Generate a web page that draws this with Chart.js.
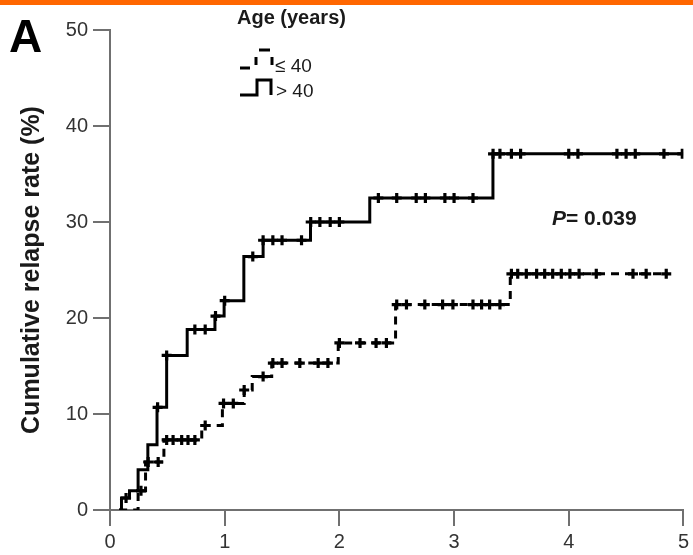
<!DOCTYPE html>
<html>
<head>
<meta charset="utf-8">
<script src="https://cdn.jsdelivr.net/npm/chart.js@4/dist/chart.umd.min.js"></script>
<style>
  html, body { margin: 0; padding: 0; background: #fff; }
  #wrap { position: relative; width: 693px; height: 555px; overflow: hidden;
          font-family: 'Liberation Sans', Arial, sans-serif; }
  #wrap canvas { position: absolute; left: 0; top: 0; }
  #topbar { position: absolute; left: 0; top: 0; width: 693px; height: 5px; background: #ff6600; }
  .lbl { position: absolute; white-space: nowrap; line-height: 1; color: #1a1a1a; }
  #icons { position: absolute; left: 0; top: 0; }
</style>
</head>
<body>
<div id="wrap">
  <canvas id="km" width="693" height="555"></canvas>
  <div id="topbar"></div>
  <div class="lbl" style="left:9px;top:13px;font-size:46px;font-weight:bold;color:#000">A</div>
  <div class="lbl" style="left:237px;top:7px;font-size:20px;font-weight:bold">Age (years)</div>
  <svg id="icons" width="693" height="120">
    <g stroke="#000" stroke-width="3" fill="none">
      <line x1="240" y1="68" x2="250" y2="68"/>
      <line x1="256" y1="57" x2="256" y2="65"/>
      <line x1="259" y1="50" x2="270" y2="50"/>
      <line x1="272" y1="57" x2="272" y2="65"/>
      <polyline points="240,95 257,95 257,80 271,80 271,95"/>
    </g>
  </svg>
  <div class="lbl" style="left:275px;top:56px;font-size:19px">≤ 40</div>
  <div class="lbl" style="left:276px;top:81px;font-size:19px">&gt; 40</div>
  <div class="lbl" style="left:552px;top:207px;font-size:21px;font-weight:bold"><i>P</i>= 0.039</div>
</div>
<script>
// Age > 40: event times (years) and cumulative relapse rate (%) after each step
const gtTimes  = [0.08, 0.10, 0.17, 0.245, 0.33, 0.41, 0.494, 0.673, 0.915, 0.995, 1.167, 1.335, 1.748, 2.265, 3.339, 4.99];
const gtRates  = [0, 1.25, 2.0, 4.2, 6.8, 10.7, 16.1, 18.8, 20.2, 21.8, 26.4, 28.1, 30.0, 32.5, 37.1, 37.1];
const gtCensor = [0.14, 0.415, 0.494, 0.74, 0.83, 0.92, 1.0, 1.245, 1.335, 1.42, 1.50, 1.67, 1.75, 1.83, 1.92, 2.0,
                  2.34, 2.50, 2.67, 2.75, 2.92, 3.0, 3.165, 3.34, 3.40, 3.50, 3.58, 4.0, 4.08, 4.42, 4.50, 4.58, 4.83, 4.99];

// Age <= 40
const leTimes  = [0.08, 0.245, 0.31, 0.47, 0.80, 0.98, 1.17, 1.24, 1.41, 1.99, 2.49, 3.49, 4.86];
const leRates  = [0, 2.0, 5.0, 7.3, 8.8, 11.1, 12.5, 13.9, 15.3, 17.4, 21.4, 24.6, 24.6];
const leCensor = [0.27, 0.333, 0.42, 0.494, 0.55, 0.625, 0.68, 0.74, 0.83, 0.99, 1.075, 1.17, 1.335, 1.42, 1.50,
                  1.655, 1.815, 1.90, 2.0, 2.18, 2.32, 2.41, 2.50, 2.585, 2.745, 2.90, 2.99, 3.165, 3.24, 3.31, 3.40,
                  3.50, 3.555, 3.63, 3.72, 3.79, 3.86, 3.935, 4.01, 4.09, 4.24, 4.56, 4.675, 4.85];

const xTicks = [0, 1, 2, 3, 4, 5];
const yTicks = [0, 10, 20, 30, 40, 50];

// level of a step curve at time t (for placing censor ticks on the curve)
function levelAt(times, rates, t) {
  let v = rates[0];
  times.forEach((tt, i) => { if (tt <= t + 1e-9) v = rates[i]; });
  return v;
}
const stepPts = (times, rates) => times.map((t, i) => ({ x: t, y: rates[i] }));
const censorPts = (cens, times, rates) => cens.map(t => ({ x: t, y: levelAt(times, rates, t) }));

const AXIS = '#707070';
const FONT = "'Liberation Sans', Arial, sans-serif";

const markStyle = {
  type: 'scatter', showLine: false, pointStyle: 'cross',
  pointRadius: 5, pointBorderWidth: 3.2, borderColor: '#000', backgroundColor: '#000',
};

new Chart(document.getElementById('km'), {
  type: 'line',
  data: {
    datasets: [
      { label: '> 40', data: stepPts(gtTimes, gtRates), stepped: 'before',
        borderColor: '#000', borderWidth: 3, pointRadius: 0, fill: false },
      { label: '≤ 40', data: stepPts(leTimes, leRates), stepped: 'before',
        borderColor: '#000', borderWidth: 3, borderDash: [8, 6], pointRadius: 0, fill: false },
      { ...markStyle, label: '> 40 censored', data: censorPts(gtCensor, gtTimes, gtRates) },
      { ...markStyle, label: '≤ 40 censored', data: censorPts(leCensor, leTimes, leRates) },
    ]
  },
  options: {
    responsive: false, animation: false, devicePixelRatio: 1,
    layout: { padding: { top: 30, right: 9, left: 0, bottom: 0 } },
    plugins: { legend: { display: false }, tooltip: { enabled: false } },
    scales: {
      x: {
        type: 'linear', min: 0, max: 5,
        afterFit: s => { s.height = 45; },
        afterBuildTicks: s => { s.ticks = xTicks.map(v => ({ value: v })); },
        border: { color: AXIS, width: 2 },
        grid: { drawOnChartArea: false, drawTicks: true, tickLength: 16, color: AXIS, lineWidth: 2 },
        ticks: { color: '#333', padding: 4, font: { family: FONT, size: 20 } },
      },
      y: {
        type: 'linear', min: 0, max: 50,
        afterFit: s => { s.width = 110; },
        afterBuildTicks: s => { s.ticks = yTicks.map(v => ({ value: v })); },
        border: { color: AXIS, width: 2 },
        grid: { drawOnChartArea: false, drawTicks: true, tickLength: 17, color: AXIS, lineWidth: 2 },
        ticks: { color: '#333', padding: 5, font: { family: FONT, size: 20 } },
        title: { display: true, text: 'Cumulative relapse rate (%)', color: '#1a1a1a',
                 padding: { top: 17, bottom: 0 }, font: { family: FONT, size: 25, weight: 'bold' } },
      }
    }
  }
});
</script>
</body>
</html>
